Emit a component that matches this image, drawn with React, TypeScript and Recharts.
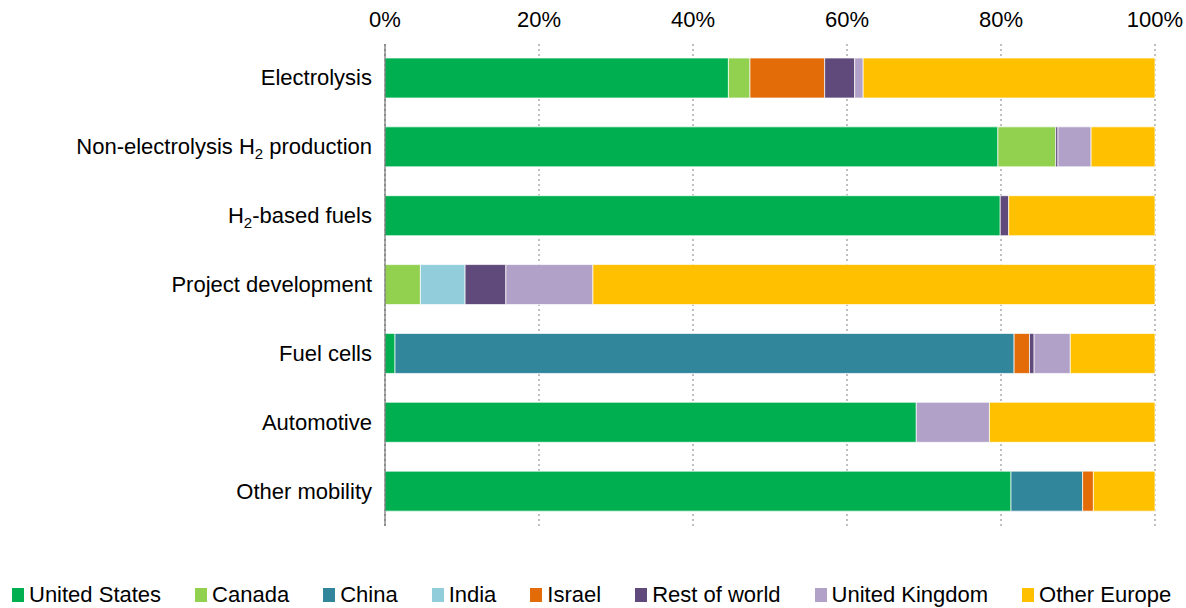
import { BarChart, Bar, XAxis, YAxis, CartesianGrid } from 'recharts';

const categories = [
  'Electrolysis',
  'Non-electrolysis H2 production',
  'H2-based fuels',
  'Project development',
  'Fuel cells',
  'Automotive',
  'Other mobility',
];

const unitedStates = [44.6, 79.6, 79.9, 0, 1.3, 69.0, 81.3];
const canada = [2.8, 7.5, 0, 4.6, 0, 0, 0];
const china = [0, 0, 0, 0, 80.4, 0, 9.3];
const india = [0, 0, 0, 5.8, 0, 0, 0];
const israel = [9.7, 0, 0, 0, 2.0, 0, 1.4];
const restOfWorld = [3.9, 0.3, 1.1, 5.3, 0.6, 0, 0];
const unitedKingdom = [1.1, 4.3, 0, 11.3, 4.7, 9.5, 0];
const otherEurope = [37.9, 8.3, 19.0, 73.0, 11.0, 21.5, 8.0];

const xTicks = [0, 20, 40, 60, 80, 100];

const series = [
  { key: 'us', name: 'United States', color: '#00b050', values: unitedStates },
  { key: 'ca', name: 'Canada', color: '#92d050', values: canada },
  { key: 'cn', name: 'China', color: '#31869b', values: china },
  { key: 'in', name: 'India', color: '#92cddc', values: india },
  { key: 'il', name: 'Israel', color: '#e36c09', values: israel },
  { key: 'row', name: 'Rest of world', color: '#604a7b', values: restOfWorld },
  { key: 'uk', name: 'United Kingdom', color: '#b1a0c7', values: unitedKingdom },
  { key: 'oe', name: 'Other Europe', color: '#ffc000', values: otherEurope },
];

const data = categories.map((name, i) => {
  const row: Record<string, string | number> = { name };
  series.forEach((s) => {
    row[s.key] = s.values[i];
  });
  return row;
});

const FONT = '"Liberation Sans", Arial, sans-serif';

// renders "H2" with a subscript 2
function CategoryTick({ x, y, payload }: { x?: number; y?: number; payload?: { value: string } }) {
  const label = payload ? payload.value : '';
  const parts = label.split('H2');
  return (
    <text x={x} y={y} dy={7} textAnchor="end" fontSize={22} fill="#000" fontFamily={FONT}>
      {parts.length === 1 ? (
        label
      ) : (
        <>
          <tspan>{parts[0]}H</tspan>
          <tspan fontSize={15} dy={5}>2</tspan>
          <tspan dy={-5}>{parts[1]}</tspan>
        </>
      )}
    </text>
  );
}

export default function App() {
  return (
    <div style={{ position: 'absolute', left: 0, top: 0, width: 1186, height: 608, background: '#fff', fontFamily: FONT }}>
      <BarChart
        width={1186}
        height={608}
        data={data}
        layout="vertical"
        margin={{ top: 0, right: 31, bottom: 82, left: 0 }}
        barSize={40}
      >
        <CartesianGrid horizontal={false} vertical stroke="#808080" strokeDasharray="2 3" />
        <XAxis
          type="number"
          orientation="top"
          domain={[0, 100]}
          ticks={xTicks}
          tickFormatter={(v: number) => `${v}%`}
          axisLine={false}
          tickLine={false}
          tickSize={0}
          tickMargin={17}
          height={44}
          tick={{ fontSize: 22, fill: '#000', fontFamily: FONT }}
          interval={0}
        />
        <YAxis
          type="category"
          dataKey="name"
          width={385}
          axisLine={{ stroke: '#595959', strokeWidth: 1 }}
          tickLine={false}
          tickSize={0}
          tickMargin={13}
          tick={<CategoryTick />}
          interval={0}
        />
        {series.map((s) => (
          <Bar
            key={s.key}
            dataKey={s.key}
            name={s.name}
            stackId="a"
            fill={s.color}
            stroke="#ffffff"
            strokeWidth={0.7}
            isAnimationActive={false}
          />
        ))}
      </BarChart>
      <div
        style={{
          position: 'absolute',
          left: 12,
          top: 583,
          display: 'flex',
          gap: 34,
          fontSize: 22,
          color: '#000',
          lineHeight: '24px',
          whiteSpace: 'nowrap',
        }}
      >
        {series.map((s) => (
          <div key={s.key} style={{ display: 'flex', alignItems: 'center', gap: 5 }}>
            <span style={{ display: 'inline-block', width: 12, height: 14, background: s.color }} />
            <span>{s.name}</span>
          </div>
        ))}
      </div>
    </div>
  );
}
